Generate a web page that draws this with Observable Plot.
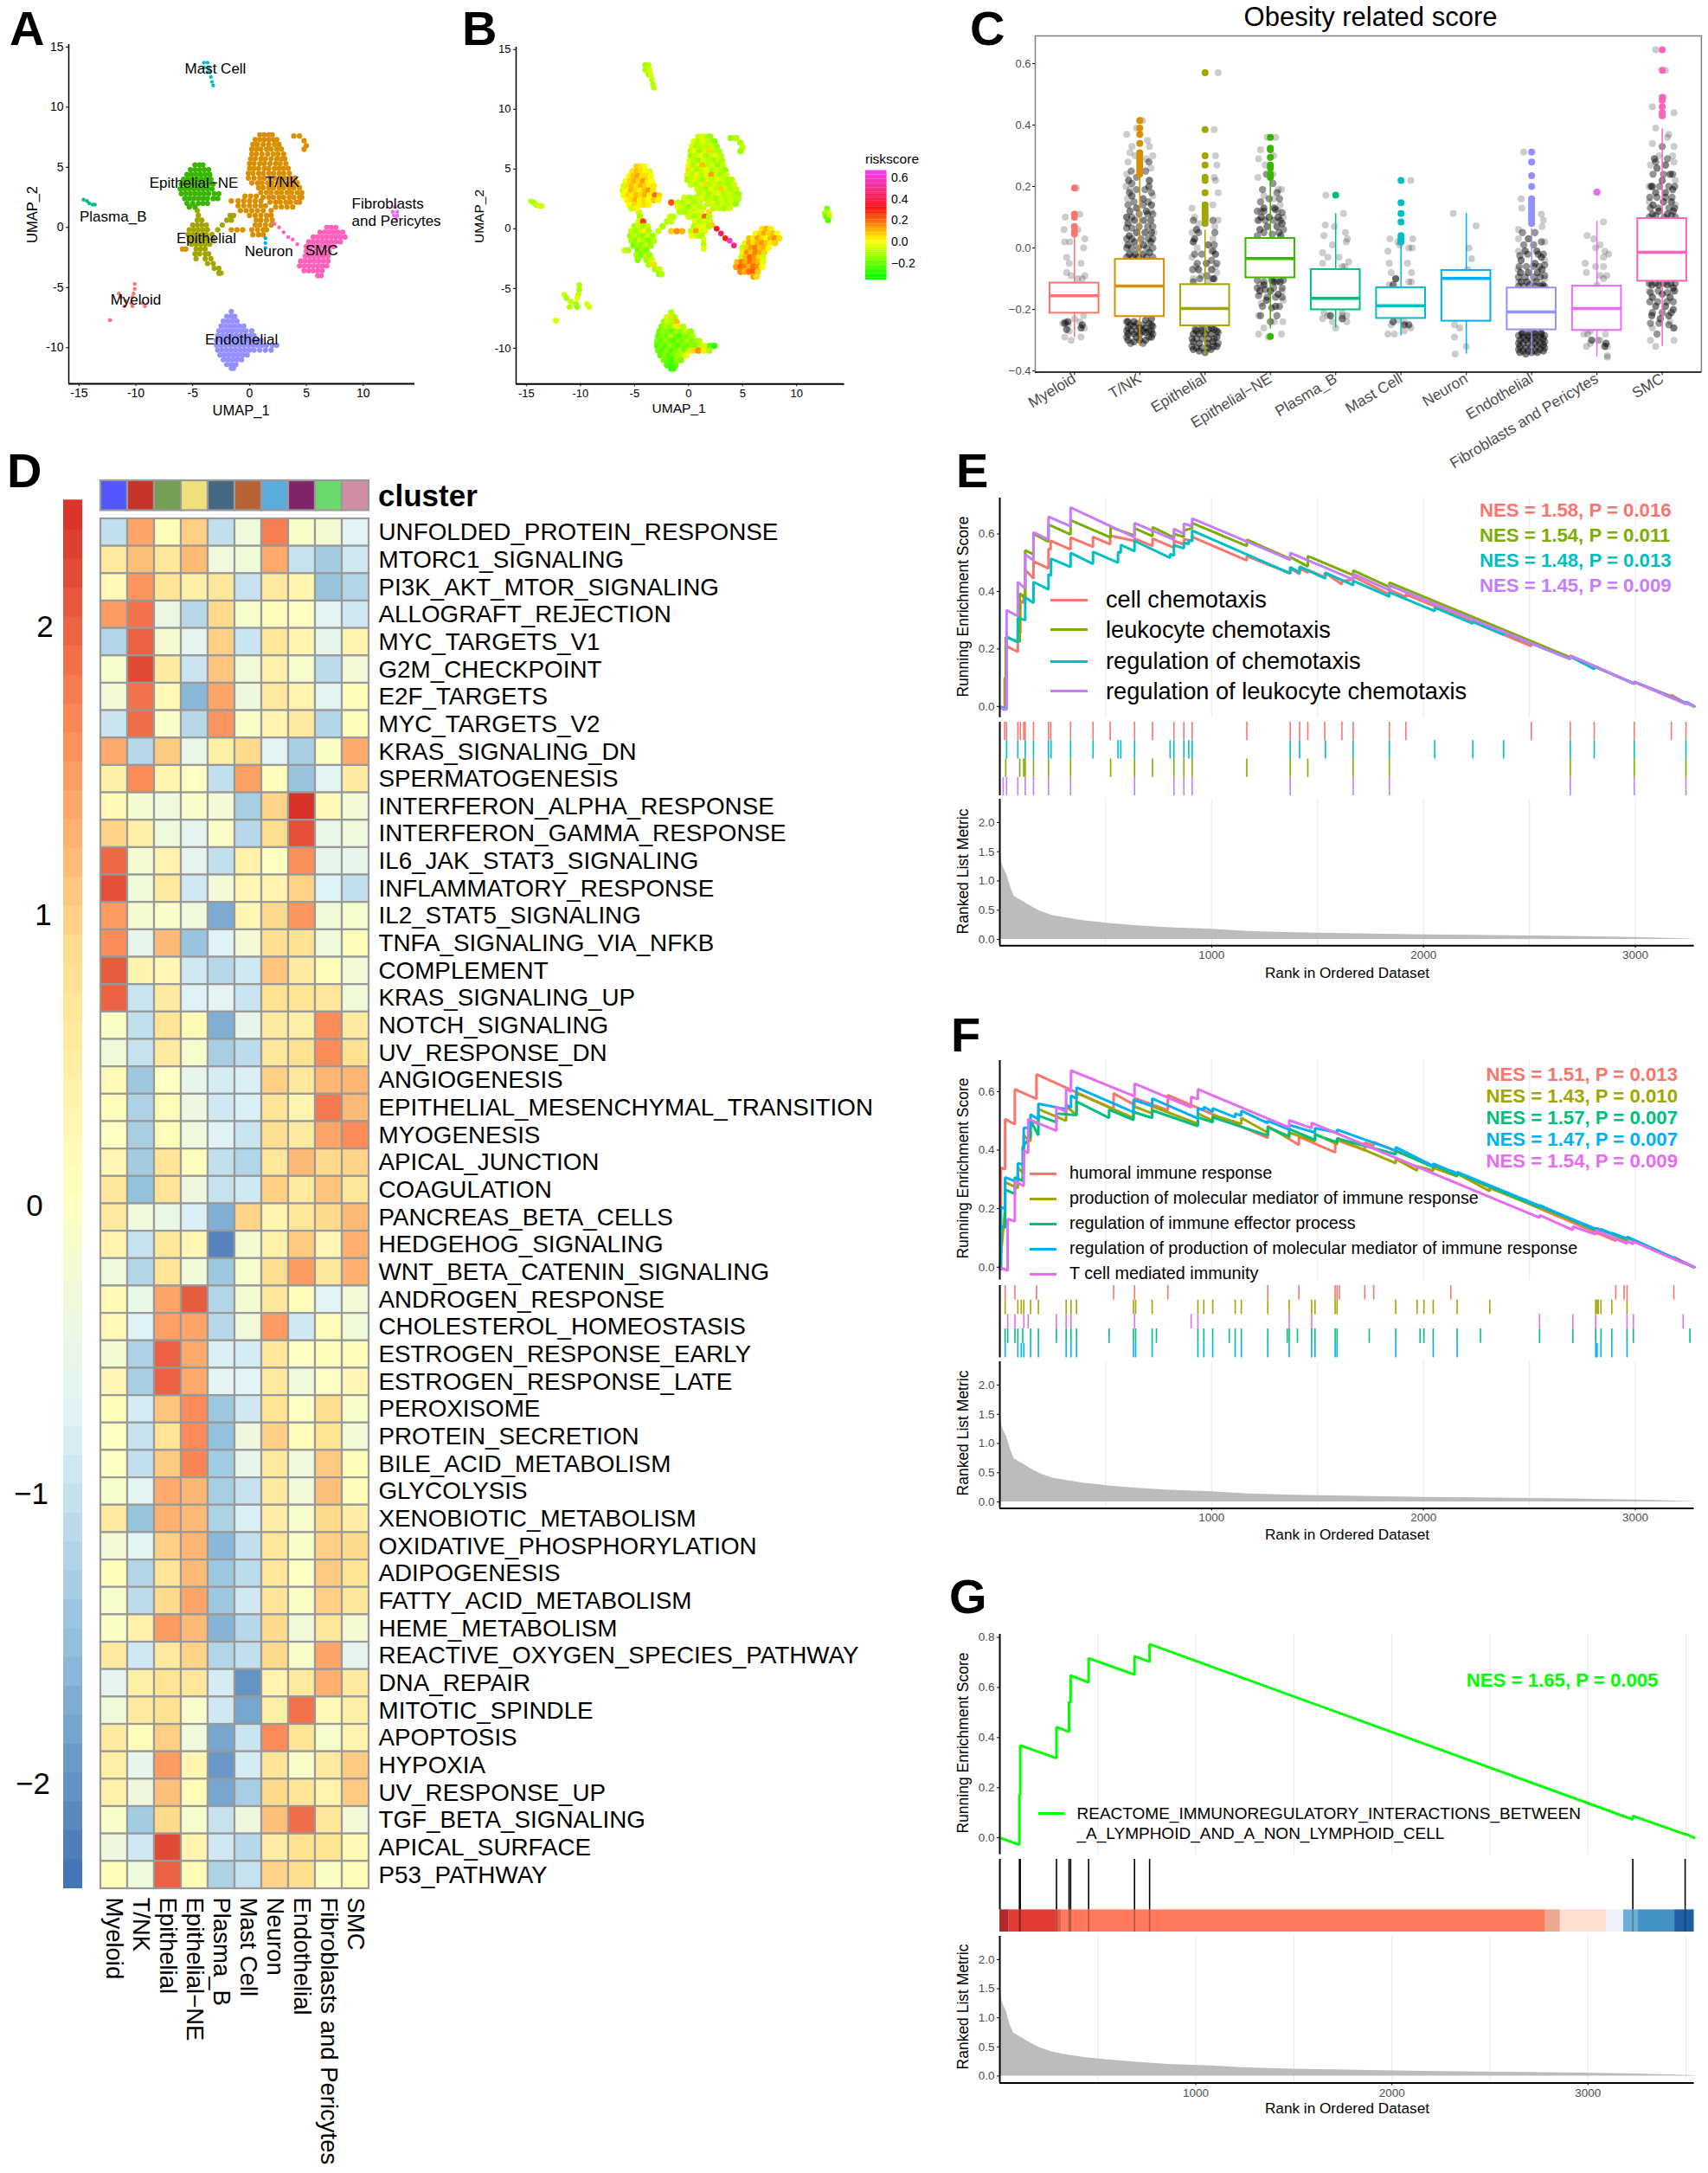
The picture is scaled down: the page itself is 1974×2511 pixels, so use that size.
<!DOCTYPE html>
<html><head><meta charset="utf-8">
<script src="https://cdn.jsdelivr.net/npm/d3@7"></script>
<script src="https://cdn.jsdelivr.net/npm/@observablehq/plot@0.6"></script>
<style>
html,body{margin:0;background:#fff}
#page{position:relative;width:1974px;height:2511px;overflow:hidden;background:#fff;font-family:"Liberation Sans",Arial,sans-serif}
.lbl{position:absolute;white-space:pre;line-height:1;color:#000}
.wrap{position:absolute}
</style></head><body><div id="page"></div>
<script>
/* ---------- categories ---------- */
const cellTypes=["Myeloid","T/NK","Epithelial","Epithelial\u2212NE","Plasma_B","Mast Cell","Neuron","Endothelial","Fibroblasts and Pericytes","SMC"];
const hueColors=["#F8766D","#D89000","#A3A500","#39B600","#00BF7D","#00BFC4","#00B0F6","#9590FF","#E76BF3","#FF62BC"];
const annotColors=["#5555FF","#C8342A","#73A055","#F0E07A","#456882","#B86335","#5AACDC","#7F2469","#6BD96B","#D08EA6"];

/* ---------- UMAP cells: rows of [y, x, score*100, x, score*100, ...] ---------- */
const umapMyeloid=[[-4.7,-10.1,-10],[-5.1,-10.1,-12],[-5.5,-10.2,-8,-11.5,-6],[-5.8,-11.3,-12,-10.3,-4],[-6.1,-10.9,-8],[-6.3,-10.4,-12,-9.4,-6],[-6.55,-11,-10,-10.3,-14,-9.2,-6],[-7.7,-12.3,-2,-12.25,-6]];
const umapTNK=[[7.7,.9,-8,1.3,-4,1.7,-10,2.0,-14],[7.3,.5,-6,.9,-12,1.3,-2,1.7,-8,2.1,-12,2.4,-16],[6.9,.3,-4,.7,-12,1.2,-8,1.7,-10,2.2,-6,2.6,-14],[6.5,.2,-10,.6,-2,1.0,-14,1.5,-6,1.9,5,2.4,-10,2.8,-12],[6.1,.2,-14,.6,-8,1.1,-4,1.6,-12,2.1,-8,2.5,-2,3.0,-10],[5.7,.1,-6,.5,-10,1.0,-14,1.4,-6,1.9,-10,2.4,-14,2.8,-8,3.1,-12],[5.3,0,-2,.4,-12,.9,-6,1.3,8,1.8,-10,2.3,-6,2.7,-14,3.2,-8],[4.9,0,4,.4,-6,.8,-12,1.3,-8,1.7,-2,2.2,-12,2.6,-6,3.0,-10,3.4,-14],[4.5,-.1,-6,.3,-10,.8,2,1.2,-10,1.7,-6,2.1,12,2.6,-8,3.0,-12,3.5,-6],[4.1,-.1,-12,.4,-4,.9,-8,1.3,-14,1.8,-6,2.2,-10,2.7,-2,3.1,-8,3.6,-12,4.0,-10],[3.7,.2,-8,.7,-12,1.1,-6,1.6,4,2.0,-10,2.5,-6,2.9,-12,3.4,-8,3.8,-14,4.2,-6],[3.3,.8,-6,1.2,-10,1.7,-14,2.1,-4,2.6,-10,3.0,6,3.5,-8,3.9,-12,4.4,-8],[2.9,1.0,-10,1.5,-6,1.9,-12,2.4,-8,2.8,-4,3.3,-12,3.7,-6,4.2,-10,4.6,-14],[2.5,1.2,-4,1.7,-12,2.1,-8,2.6,-14,3.0,-6,3.5,-10,3.9,-8,4.4,-12,4.6,-10],[2.1,1.8,-8,2.3,-4,2.7,-12,3.2,-6,3.6,-10,4.1,-8,4.4,-14],[1.7,2.3,-10,2.8,-8,3.3,-12,3.8,-6],[7.6,3.9,-14,4.4,-10],[7.2,4.8,-12],[6.8,5,-8],[6.5,4.8,-14],[2.6,-.4,-6,.1,-12,.6,-8],[2.2,-1.6,22,-1,-8,-.5,-10,0,-6,.5,-12,1,-8],[1.8,-1,-4,-.5,-8,0,-14,.5,-6,1,-10,1.4,-8],[1.4,-.8,-10,-.3,-12,.2,-6,.7,-8,1.2,-4,1.9,4],[1.0,0,-6,.5,-12,1,-8,1.5,20,1.9,-10],[.6,.6,-4,1,-10,1.5,-6,2,-8],[.2,.5,-10,.9,-6,1.4,-4,1.9,-12],[-.2,-1.6,6,-1.1,14,-.6,10,.2,-8,.7,12,1.2,-6,1.5,-4],[-.6,.3,-2,.8,-8,1.2,-12],[-1.8,-5.9,-6,-5.6,-10]];
const umapEpi=[[1.4,-4.6,-8],[1.0,-4.5,-12,-1.7,-6,-1.4,-10],[.6,-4.6,-6,-4.2,24,-2,-10,-1.6,-8],[.2,-5,-12,-4.6,-6,-4.2,-14,-3.8,-8,-2.4,-12],[-.2,-5.3,-8,-4.9,-14,-4.5,-10,-4.1,2,-3.7,-12,-2.8,-8],[-.6,-5.4,-14,-5,-8,-4.6,-12,-4.2,-16,-3.8,-6,-3.3,-14],[-1,-5.3,-10,-4.9,-16,-4.5,-8,-4.1,-12,-3.7,-18,-3.2,-10],[-1.4,-5.1,-18,-4.7,-12,-4.3,-16,-3.9,-8,-3.5,-14],[-1.8,-4.7,-20,-4.3,-14,-3.9,-18],[-2.2,-4.8,-12,-4.4,-18,-3.9,-8,-3.6,-14],[-2.6,-4.7,-16,-3.9,-12,-3.4,-6],[-3,-3.7,-10,-3.2,4],[-3.4,-3.1,-12,-2.7,-8],[-3.8,-2.7,-16,-2.5,-10]];
const umapEpiNE=[[5.2,-4.8,6,-4.4,3,-4.1,-2],[4.8,-5.2,3,-4.8,8,-4.4,4,-4,1,-3.6,-4],[4.4,-5.5,1,-5.1,7,-4.7,11,-4.3,3,-3.9,5,-3.5,-2],[4,-5.8,-2,-5.4,5,-5,10,-4.6,4,-4.2,13,-3.8,3,-3.4,0],[3.6,-6,-6,-5.6,4,-5.2,8,-4.8,3,-4.4,10,-4,5,-3.6,1,-3.2,3],[3.2,-6.1,-4,-5.7,1,-5.3,10,-4.9,5,-4.5,1,-4.1,7,-3.7,13,-3.3,3],[2.8,-6,-2,-5.6,5,-5.2,3,-4.8,8,-4.4,4,-4,10,-3.6,1,-3.1,20,-2.7,4],[2.4,-5.7,1,-5.3,4,-4.9,10,-4.5,1,-4.1,5,-3.7,-2,-3.2,7,-2.8,1],[2,-5.5,0,-5,5,-4.5,-4,-4.1,4,-3.7,1],[1.7,-5.3,-6,-4.8,1]];
const umapPlasma=[[2.3,-14.6,-8],[2.2,-14.3,-12],[2,-14.1,-10],[1.9,-13.8,-4,-13.6,-8]];
const umapMast=[[13.7,-4,-14,-3.7,-10],[13.3,-4,-12,-3.6,-6],[12.9,-3.7,-14,-3.5,-4],[12.5,-3.4,-8],[12.1,-3.3,-12],[11.8,-3.2,-10]];
const umapNeuron=[[-.9,1.4,-6],[-1.3,1.4,-10],[-1.7,1.4,-4]];
const umapEndo=[[-7,-1.6,-10],[-7.4,-2,-6,-1.6,4,-1.3,-12],[-7.8,-2.3,-14,-1.9,-8,-1.5,-12,-1.1,8],[-8.2,-2.5,-18,-2.1,-10,-1.7,-16,-1.3,-6,-.9,2,-.5,-10],[-8.6,-2.7,-20,-2.3,-14,-1.9,-18,-1.5,-22,-1.1,-12,-.7,-16,-.3,-8,.2,-14],[-9,-2.8,-22,-2.4,-16,-2,-20,-1.6,-12,-1.2,-18,-.8,-24,-.4,-14,0,-18,.4,-10],[-9.4,-2.9,-18,-2.5,-22,-2.1,-14,-1.7,-20,-1.3,-24,-.9,-16,-.5,-20,-.1,-12,.3,-18,.7,-14,1,-10],[-9.8,-2.9,-24,-2.5,-18,-2.1,-22,-1.7,-14,-1.3,-20,-.9,-24,-.5,-16,-.1,-20,.3,-14,.7,-18,1.1,-8,1.5,-6,2,-24,2.4,-28],[-10.2,-2.8,-20,-2.4,-24,-2,-16,-1.6,-22,-1.2,-18,-.8,-12,-.4,-20,0,-8,.4,4,.9,14,1.4,2,1.9,-12],[-10.6,-2.6,-22,-2.2,-16,-1.8,-24,-1.4,-18,-1,-14,-.6,-10,-.2,-2],[-11,-2.3,-18,-1.9,-22,-1.5,-26,-1.1,-14,-.7,-18],[-11.4,-2,-24,-1.6,-28,-1.2,-20],[-11.7,-1.6,-30,-1.4,-26]];
const umapFibro=[[1.7,12.8,-18],[1.3,12.6,-12,13,-6],[1,12.7,-20,13,-10],[.7,12.9,-24]];
const umapSMC=[[0,6.8,3,7.2,9,7.6,2],[-.4,6.2,-2,6.6,5,7,11,7.4,4,7.8,8,8.2,0],[-.8,5.6,8,6,2,6.4,12,6.8,5,7.2,0,7.6,9,8,14,8.4,4],[-1.2,5.2,-2,5.6,11,6,4,6.4,9,6.8,14,7.2,7,7.6,2,8,6],[-1.6,5,-8,5.4,6,5.8,12,6.2,17,6.6,7,7,10,7.4,0],[-2,5,2,5.4,14,5.8,7,6.2,16,6.6,10,7,5],[-2.4,4.9,-8,5.3,9,5.7,19,6.1,14,6.5,5,6.9,-6],[-2.8,4.5,8,4.9,16,5.3,10,5.7,18,6.1,12,6.5,8,6.9,-3],[-3.2,4.4,12,4.8,20,5.2,16,5.6,10,6,18,6.4,14,6.8,0],[-3.6,4.8,16,5.2,9,5.6,18,6,21,6.4,7],[-4,6,12,6.3,4]];
const umapBridge=[[.3,2.2,6],[0,2.6,34],[-.4,3,42],[-.8,3.4,28],[-1,3.8,60],[-1.4,4.2,46]];
const umapClusters=[umapMyeloid,umapTNK,umapEpi,umapEpiNE,umapPlasma,umapMast,umapNeuron,umapEndo,umapFibro,umapSMC];
const umapLabels=["Mast Cell","Epithelial\u2212NE","T/NK","Plasma_B","Epithelial","Neuron","SMC","Myeloid","Endothelial"];
const umapLabelX=[-3,-4.9,2.9,-12,-3.8,1.7,6.35,-10,-.7];
const umapLabelY=[13.2,3.7,3.75,.9,-.95,-2,-1.9,-6.05,-9.3];
const riskStops=[-.35,0,.3,.65];
const riskColors=["#00FF00","#FFFF00","#FF1010","#F040F0"];
const riskTicks=[-.2,0,.2,.4,.6];

/* ---------- Panel C ---------- */
const boxQ3=[-.114,-.037,-.119,.031,-.07,-.129,-.073,-.13,-.124,.096];
const boxMedian=[-.155,-.124,-.197,-.034,-.164,-.188,-.099,-.208,-.197,-.014];
const boxQ1=[-.212,-.223,-.253,-.097,-.201,-.229,-.238,-.266,-.268,-.108];
const whiskerLow=[-.291,-.32,-.348,-.262,-.26,-.286,-.345,-.354,-.354,-.32];
const whiskerHigh=[.04,.233,.058,.223,.112,.01,.112,.063,.087,.388];
const outliers=[[.195,.11,.10,.07,.055,.045],[.415,.39,.37,.34,.31,.30,.29,.28,.27,.26,.25,.24],[.57,.385,.30,.27,.23,.22,.18,.14,.13,.12,.11,.10,.09,.08],[.36,.325,.32,.295,.27,.26,.24,.23,-.288],[.172],[.22,.147,.112,.085,.04,.03,.02],[],[.312,.28,.235,.2,.16,.15,.14,.13,.12,.11,.1,.09,.08],[.182],[.645,.578,.49,.48,.46,.44,.43]];
/* jitter: dx, value, dx, value ... */
const jitterSparse=[
[-.15,-.29,-.05,-.3,.1,-.29,.15,-.26,-.1,-.25,.08,-.24,-.14,-.24,0,-.23,.14,-.22,-.08,-.27,-.18,-.245,.12,-.1,.16,-.09,-.05,-.09,.05,-.1,-.12,-.08,.1,-.05,-.08,-.05,.14,0,-.12,-.03,.16,.03,-.15,.02,-.07,.02,.05,.06,-.14,.1,.08,.11,.03,.195,-.16,.06],
[.04,.415,-.2,.37,-.05,.39,.12,.35,-.15,.31,-.18,.28,.15,.33,.2,.3,-.2,.24,-.12,.33,.17,.26,.1,.29,-.07,.3,-.21,.2,.14,.22,.2,.17,-.19,.16,.18,.12,-.2,.1,-.15,.19,.22,.05],
[.2,.57,.14,.385,.16,.3,.18,.27,.14,.23,.16,.22,.2,.18,.12,.14,-.2,.13,-.16,.1,.2,.09,-.1,.08,.15,.07,-.2,.05,-.18,.02,.12,.03,-.12,.0,.1,-.01,-.2,-.03,.16,-.06,-.14,-.06,-.05,-.09,.18,-.08,-.18,-.1,.05,-.11],
[-.05,.36,.08,.36,-.15,.32,.05,.3,-.18,.29,-.08,.27,-.19,.23,.04,.24,.12,.19,.17,.19,-.1,.17,.05,.16,.15,.14,-.15,.12,.12,.12,.2,.1,-.2,.09,-.16,-.12,.18,-.14,-.14,-.18,.2,-.17,-.18,-.22,.06,-.24,.19,-.24,-.1,-.26,.17,-.28,-.18,-.28,-.03,-.29],
[-.15,.172,-.16,.075,.12,.112,-.02,.07,.15,.05,-.18,.04,-.05,.01,.18,.03,.16,.02,-.2,-.015,-.12,-.03,.05,-.03,.14,-.06,.1,-.06,-.2,-.05,.2,-.045,-.2,-.23,-.12,-.22,-.05,-.24,.1,-.21,.17,-.22,-.18,-.21,.17,-.24,0,-.26,.1,-.22],
[.15,.22,-.17,.03,.18,.03,-.05,.02,.12,.0,.17,.0,-.2,-.01,-.02,.01,-.18,-.05,.1,-.05,.16,-.08,-.15,-.08,-.08,-.1,.12,-.11,.16,-.11,-.18,-.12,-.2,-.28,-.1,-.28,.05,-.27,.15,-.26,-.15,-.25,.05,-.24,-.05,-.235],
[-.2,.112,.15,.072,.04,-.0,.08,-.035,-.18,-.25,-.1,-.26,-.18,-.29,0,-.32,-.17,-.345,.02,-.07],
[-.12,.312,-.16,.16,.15,.11,-.15,.13,.18,.09,.16,.07,-.2,.06,-.2,.03,.2,.02,-.2,-.01,.2,-.04,-.21,-.07,.2,-.1,-.2,-.11],
[.0,.182,-.15,.04,-.05,.03,.1,.085,.05,.01,.12,-.01,-.02,.0,.18,-.02,.1,-.03,-.18,-.05,-.02,-.06,.1,-.06,-.16,-.08,.15,-.09,.05,-.09,.1,-.1,.0,-.12,-.2,-.28,-.14,-.28,.13,-.28,.05,-.3,-.1,-.31,.16,-.32,-.16,-.32,.16,-.35,.02,-.3,.16,-.355,-.1,-.27],
[-.1,.645,.05,.578,-.15,.46,.02,.49,.18,.44,-.1,.39,.1,.37,.08,.36,-.15,.34,.18,.33,-.05,.3,.16,.3,-.18,.27,.18,.28,-.2,.2,.2,.22,-.2,.15,.2,.14,-.18,-.3,.18,-.3,-.15,-.26,.17,-.26,-.1,-.32,.12,-.24,-.2,-.14,.2,-.14]
];
const jitterCore=[
[-.15,-.245,-.1,-.24,.1,-.26,.12,-.25,-.12,-.265],
[-.18,-.3,-.09,-.305,0,-.3,.09,-.3,.18,-.29,-.18,-.28,-.09,-.28,0,-.28,.09,-.275,.18,-.27,-.18,-.26,-.09,-.255,0,-.26,.09,-.26,.18,-.25,-.18,-.24,-.09,-.24,.09,-.235,.18,-.23,-.16,-.02,-.07,-.02,.05,-.02,.15,-.015,-.18,.01,-.08,.02,.06,.01,.17,.02,-.16,.04,-.05,.05,.08,.05,.18,.05,-.18,.08,-.08,.09,.06,.09,.17,.09,-.15,.12,-.05,.13,.1,.12,.18,.14,-.12,.17,.05,.16,.14,.2,-.17,.22],
[-.18,-.33,-.09,-.335,0,-.34,.09,-.33,.18,-.32,-.18,-.305,-.09,-.31,.04,-.31,.12,-.305,.18,-.29,-.18,-.28,-.09,-.28,0,-.28,.09,-.28,.18,-.27,-.15,-.265,-.05,-.26,.1,-.26,.12,-.1,.1,-.07,-.1,-.07,.02,-.05,-.16,.03,.16,-.02,.05,.01,-.13,.06],
[-.15,.02,-.06,.02,.07,.02,.16,.04,-.16,.06,-.05,.07,.1,.07,.18,.08,-.14,.1,-.02,.1,.12,.1,-.1,.13,.06,.13,.15,-.11,.05,-.11,-.1,-.12,-.16,-.14,0,-.14,.12,-.15,-.06,-.17,.08,-.19],
[-.08,-.22,.1,-.23],
[-.12,-.24,.05,-.25,.12,-.25,-.08,-.1,-.12,-.12],
[],
[-.18,-.34,-.09,-.345,0,-.34,.09,-.34,.18,-.335,-.18,-.32,-.09,-.325,0,-.32,.09,-.32,.18,-.315,-.18,-.3,-.09,-.3,0,-.3,.09,-.3,.18,-.295,-.15,-.28,-.05,-.285,.05,-.28,.15,-.28,-.16,-.11,-.07,-.11,.07,-.11,.17,-.12,-.17,-.08,-.05,-.08,.09,-.08,.16,-.07,-.16,-.04,.05,-.05,.15,-.03,-.1,-.01,.08,-.01,-.05,.03],
[.12,-.32,.14,-.31,-.08,-.3],
[-.15,.11,-.05,.12,.08,.11,.17,.12,-.14,.14,.02,.15,.14,.15,-.1,.18,.05,.18,.16,.19,-.15,.2,.0,.22,.12,.24,-.08,.26,.05,.27,-.12,.29,-.16,-.12,-.05,-.12,.08,-.12,.17,-.13,-.15,-.16,0,-.15,.12,-.16,-.1,-.19,.05,-.19,.17,-.2,-.16,-.22,-.03,-.23,.1,-.22]
];
const jitterDense=[
[],
[-.2,-.29,-.14,-.31,-.05,-.29,.05,-.31,.14,-.29,.2,-.28,-.2,-.27,-.13,-.27,-.04,-.27,.05,-.27,.14,-.27,.2,-.255,-.14,-.25,-.04,-.245,.04,-.25,.14,-.245,-.2,-.24,-.2,-.03,-.11,-.03,-.02,-.03,.1,-.03,.2,-.03,-.2,0,-.12,0,-.02,0,.11,0,.2,0,-.2,.03,-.12,.03,.02,.03,.13,.03,.2,.03,-.2,.065,-.12,.065,-.01,.07,.12,.07,.2,.07,-.2,.1,-.12,.1,-.01,.11,.12,.11,.2,.11,-.18,.14,-.09,.15,.05,.14,.13,.15,-.16,.18,-.05,.19,.08,.19,.18,.18,-.12,.21,.15,.22,-.05,.23,.09,.25,-.13,.25,.14,.28],
[-.2,-.32,-.13,-.325,-.05,-.325,.05,-.325,.13,-.32,.2,-.31,-.2,-.295,-.13,-.295,-.04,-.295,.05,-.295,.14,-.295,.2,-.275,-.13,-.27,-.04,-.27,.05,-.265,.14,-.265,-.18,-.11,-.08,-.1,.03,-.09,.14,-.1,-.19,-.07,-.12,-.05,.1,-.04,.18,-.05,-.16,-.02,-.05,-.02,.12,-.01,-.18,.02,.14,.01,-.1,.05,.15,.05,-.18,.09,.12,.09],
[-.2,.04,-.1,.05,.03,.045,.13,.05,.2,.06,-.18,.09,-.08,.09,.05,.09,.15,.09,-.2,.12,-.1,.12,.08,.125,.18,.115,-.15,.15,-.02,.16,.14,.16,-.12,.19,.1,.18,.04,.21,-.06,.24,-.2,-.105,-.1,-.11,.02,-.105,.1,-.11,.2,-.105,-.2,-.13,-.08,-.135,.05,-.13,.18,-.13,-.18,-.155,-.05,-.16,.08,-.16,.18,-.16,-.12,-.19,.02,-.195,.14,-.19,-.15,-.22,.1,-.22,0,-.24],
[],[],[],
[-.2,-.33,-.13,-.335,-.05,-.335,.05,-.335,.13,-.33,.2,-.325,-.2,-.31,-.13,-.31,-.05,-.31,.05,-.31,.13,-.31,.2,-.305,-.2,-.285,-.13,-.29,-.05,-.29,.05,-.29,.13,-.29,.2,-.285,-.14,-.275,-.04,-.275,.04,-.275,.14,-.275,-.2,-.125,-.12,-.125,-.03,-.12,.06,-.125,.14,-.125,.2,-.125,-.2,-.095,-.1,-.095,.03,-.095,.13,-.095,.2,-.09,-.19,-.06,-.08,-.06,.03,-.06,.12,-.06,.2,-.055,-.18,-.025,-.06,-.02,.1,-.02,.18,-.02,-.12,.01,.03,.01,.15,.02,-.14,.05,.05,.05],
[],
[-.2,.1,-.1,.105,.03,.1,.14,.105,.2,.1,-.18,.13,-.06,.13,.1,.13,.19,.13,-.19,.165,-.08,.165,.05,.165,.15,.165,-.17,.2,-.04,.2,.1,.2,.19,.2,-.14,.24,.02,.24,.16,.24,-.1,.28,.08,.29,0,.33,-.2,-.115,-.1,-.115,.02,-.115,.13,-.115,.2,-.115,-.18,-.145,-.06,-.14,.08,-.145,.18,-.14,-.19,-.175,-.07,-.175,.07,-.175,.17,-.175,-.15,-.21,0,-.21,.14,-.21,-.18,-.245,-.05,-.245,.1,-.25,.18,-.26,-.08,-.28]
];

/* ---------- Panel D ---------- */
const pathways=["UNFOLDED_PROTEIN_RESPONSE","MTORC1_SIGNALING","PI3K_AKT_MTOR_SIGNALING","ALLOGRAFT_REJECTION","MYC_TARGETS_V1","G2M_CHECKPOINT","E2F_TARGETS","MYC_TARGETS_V2","KRAS_SIGNALING_DN","SPERMATOGENESIS","INTERFERON_ALPHA_RESPONSE","INTERFERON_GAMMA_RESPONSE","IL6_JAK_STAT3_SIGNALING","INFLAMMATORY_RESPONSE","IL2_STAT5_SIGNALING","TNFA_SIGNALING_VIA_NFKB","COMPLEMENT","KRAS_SIGNALING_UP","NOTCH_SIGNALING","UV_RESPONSE_DN","ANGIOGENESIS","EPITHELIAL_MESENCHYMAL_TRANSITION","MYOGENESIS","APICAL_JUNCTION","COAGULATION","PANCREAS_BETA_CELLS","HEDGEHOG_SIGNALING","WNT_BETA_CATENIN_SIGNALING","ANDROGEN_RESPONSE","CHOLESTEROL_HOMEOSTASIS","ESTROGEN_RESPONSE_EARLY","ESTROGEN_RESPONSE_LATE","PEROXISOME","PROTEIN_SECRETION","BILE_ACID_METABOLISM","GLYCOLYSIS","XENOBIOTIC_METABOLISM","OXIDATIVE_PHOSPHORYLATION","ADIPOGENESIS","FATTY_ACID_METABOLISM","HEME_METABOLISM","REACTIVE_OXYGEN_SPECIES_PATHWAY","DNA_REPAIR","MITOTIC_SPINDLE","APOPTOSIS","HYPOXIA","UV_RESPONSE_UP","TGF_BETA_SIGNALING","APICAL_SURFACE","P53_PATHWAY"];
const heatValues=[
[-1.1,1.35,.1,.95,-1.1,-.4,1.7,-.15,-.25,-.75],[.55,1.1,.6,1.15,-.4,-.35,1.3,-1.05,-1.4,-.95],[.15,1.5,.7,.4,.6,-1.05,.55,.25,-1.5,-1.25],[1.45,1.8,-.5,-1.2,.85,-.2,.1,-.05,-.7,-.95],[-1.25,1.95,-.25,-.65,.95,-1,.6,.25,-.6,.3],[-.2,2.15,.5,-1,1.05,-.35,.35,-.2,-1.15,-.3],[-.3,1.8,.15,-1.65,1.35,-.45,.55,.3,-.7,.1],[-1,1.85,-.15,-1.2,1.5,-.15,.3,.55,-1.25,.1],[1.3,-1.2,1,-.55,.4,.85,-.7,-1.35,-.1,1.3],[.4,1.6,.25,-.05,-1.1,1.4,.05,-1.5,-.7,.5],
[.15,-.25,-.4,-.15,-.3,-1.35,.9,2.35,.15,-.3],[.9,.4,-.4,-.65,-.1,-1.2,.8,2.1,-.55,-.4],[1.9,-.25,.3,-.65,-1.1,.35,-.05,1.55,-.6,-.6],[2.1,-.35,.55,-.95,-.3,.2,.3,.9,-.8,-1.1],[1.45,-.25,-.15,-.4,-1.8,.2,.85,1.5,-.35,-.2],[1.6,-.6,1.15,-1.5,-.8,-.3,.8,.75,-.4,.1],[2,.3,.2,-.95,-1.2,-.95,1.05,.5,.1,-.3],[1.95,-1,.5,-.8,-.7,-1,.75,.7,.6,-.35],[-.1,-1.1,.7,.15,-1.75,-.6,.55,.4,1.6,.55],[-.35,-1.05,.55,-.2,-1.35,-1.15,.6,.75,1.6,.75],
[.15,-1.45,-.05,-.6,-.9,-.85,.95,.6,1.2,1.2],[.1,-1.3,.1,-.45,-.95,-.85,.65,.25,1.75,1.15],[-.05,-1.35,.1,-.4,-.8,-1,.8,.5,1.35,1.6],[.2,-1.4,.65,.05,-1.1,-1.25,.6,1.15,.85,.9],[.6,-1.55,.65,-.45,-1.05,-.95,.95,.55,1.05,.6],[.55,-.4,-.55,-.85,-1.75,.9,.25,.6,.85,1.15],[.25,-1.05,.6,.2,-2.2,-.25,.35,1,.2,1.25],[-.4,-1.25,.65,-.35,-1.45,-.2,.8,1.45,.6,1.25],[.15,-.55,1.35,2,-1.25,-.25,.6,.05,-.75,-.3],[.15,-.8,1.4,1.35,-1.2,-.35,1.45,-.95,.1,-.35],
[-.25,-1.3,1.95,1.3,-.85,-.9,.6,-.05,.05,.1],[.2,-1.35,1.95,1.3,-.7,-.75,.55,-.4,-.05,.2],[.1,-.9,1.05,1.6,-1.45,-.95,.7,-.05,.8,-.15],[-.05,-1.05,.7,1.6,-1.55,-.45,.95,.05,.7,-.3],[-.05,-1.1,1,1.65,-1.4,-.6,.55,-.4,1,.1],[-.2,-.7,1.3,1.2,-1.35,-1.05,.55,-.35,1.1,.1],[.5,-1.5,1.25,1.15,-1.3,-.85,.45,-.2,.85,.45],[-.3,-.7,.95,1.2,-1.65,-1.1,.6,-.15,.95,.85],[.1,-1.25,.7,1.15,-1.45,-1.15,.6,-.05,1,.7],[-.2,-1.15,.85,1.35,-1.45,-.95,.65,-.1,.95,.6],
[-.1,.35,1.45,1.15,-1.7,-1.2,.85,-.35,.6,-.25],[.55,-.95,.55,.9,-1.25,-1.1,.85,-.15,1.35,-.65],[-.65,.4,.7,.6,-.9,-2.05,.3,.55,1.25,.5],[-.35,.55,.75,-.15,-.95,-1.85,.4,1.8,.15,.4],[.5,.05,.95,-.4,-1.85,-1,1.6,.7,-.2,.3],[.4,-.6,1.45,.25,-2,-.9,.65,-.15,.55,1],[.35,-.45,1.1,.1,-1.85,-1.35,.85,.65,.3,1],[-.15,-1.4,.85,-.2,-1.05,-.45,1.1,1.85,.6,-.3],[-.45,-.95,2.15,.25,-.95,-1.2,.45,.75,.7,.15],[.1,-.4,1.95,.1,-1.3,-1.05,.9,.8,-.1,.1]];
const heatStops=[-2.37,-1.58,-.79,0,.79,1.58,2.37];
const heatColors=["#4575B4","#91BFDB","#E0F3F8","#FFFFBF","#FEE090","#FC8D59","#D73027"];

/* ---------- Ranked list metric ---------- */
const metricRank=[0,4,10,20,32,50,67,90,124,160,194,250,309,400,500,650,800,1000,1170,1345,1500,1750,2000,2250,2500,2750,3000,3150,3278];
const metricValue=[1.9,1.5,1.3,1.2,1.12,.9,.74,.69,.62,.54,.48,.41,.37,.32,.28,.235,.2,.175,.14,.12,.11,.095,.08,.07,.062,.05,.035,.02,.005];
const gMetricRank=[0,4,10,20,32,50,70,95,130,170,210,270,330,430,540,700,860,1080,1260,1450,1620,1890,2160,2430,2700,2970,3240,3400,3542];

/* ---------- Panel E: each hit is rank, score before, score after ---------- */
const eNames=["cell chemotaxis","leukocyte chemotaxis","regulation of chemotaxis","regulation of leukocyte chemotaxis"];
const eNES=["NES = 1.58, P = 0.016","NES = 1.54, P = 0.011","NES = 1.48, P = 0.013","NES = 1.45, P = 0.009"];
const eColors=["#F8766D","#7CAE00","#00BFC4","#C77CFF"];
const eCoral=[[23,-.01,.1],[32,.09,.21],[85,.19,.26],[97,.255,.368],[113,.36,.39],[120,.385,.475],[159,.445,.505],[230,.48,.55],[240,.545,.576],[334,.546,.588],[440,.555,.59],[521,.564,.594],[636,.576,.584],[721,.558,.584],[822,.552,.576],[869,.564,.582],[908,.576,.59],[1166,.508,.523],[1371,.463,.481],[1415,.46,.481],[1454,.465,.475],[1534,.45,.465],[1615,.425,.435],[1668,.442,.452],[1839,.39,.407],[1917,.38,.39],[2509,.21,.22],[2693,.168,.174],[2806,.132,.139],[2995,.079,.086],[3170,.035,.04],[3239,.011,.016]];
const eOlive=[[28,-.01,.24],[94,.225,.394],[113,.38,.39],[120,.37,.543],[159,.529,.6],[230,.573,.633],[334,.598,.648],[523,.588,.624],[636,.594,.62],[721,.592,.624],[822,.588,.6],[869,.59,.612],[908,.62,.638],[1166,.558,.58],[1371,.513,.52],[1454,.487,.523],[1668,.457,.473],[1839,.415,.431],[2693,.171,.177],[2995,.08,.086],[3239,.01,.015]];
const eTeal=[[32,-.01,.243],[85,.223,.308],[120,.3,.38],[159,.36,.433],[230,.407,.46],[242,.455,.514],[334,.485,.534],[440,.496,.538],[558,.5,.537],[571,.535,.562],[636,.54,.576],[804,.517,.53],[822,.525,.561],[869,.55,.57],[892,.565,.578],[908,.575,.612],[1371,.463,.485],[1415,.465,.487],[1537,.445,.465],[1668,.422,.437],[1839,.382,.397],[2053,.332,.344],[2233,.288,.296],[2378,.25,.257],[2693,.165,.174],[2806,.13,.139],[2995,.079,.086],[3239,.011,.016]];
const ePurple=[[16,-.01,-.01],[32,-.01,.335],[85,.314,.433],[120,.41,.529],[159,.508,.606],[230,.58,.66],[334,.627,.692],[636,.588,.638],[822,.58,.618],[869,.6,.636],[908,.627,.654],[1371,.51,.534],[1668,.442,.461],[1839,.404,.421],[2693,.165,.177],[2995,.079,.086],[3239,.008,.013]];
const eHits=[eCoral,eOlive,eTeal,ePurple];
const eTickOrder=[0,2,1,3];

/* ---------- Panel F ---------- */
const fNames=["humoral immune response","production of molecular mediator of immune response","regulation of immune effector process","regulation of production of molecular mediator of immune response","T cell mediated immunity"];
const fNES=["NES = 1.51, P = 0.013","NES = 1.43, P = 0.010","NES = 1.57, P = 0.007","NES = 1.47, P = 0.007","NES = 1.54, P = 0.009"];
const fColors=["#F8766D","#A3A500","#00BF7D","#00B0F6","#E76BF3"];
const fCoral=[[5,-.01,.34],[25,.335,.506],[71,.488,.608],[173,.575,.659],[537,.54,.594],[636,.554,.578],[793,.536,.588],[1265,.442,.482],[1412,.418,.446],[1583,.392,.422],[1592,.42,.434],[1723,.4,.425],[1765,.415,.428],[2129,.32,.33],[2908,.09,.097],[2947,.088,.1],[2961,.095,.103],[3182,.03,.035]];
const fOlive=[[25,.2,.29],[85,.27,.34],[113,.32,.45],[145,.43,.5],[182,.49,.54],[313,.5,.55],[362,.52,.595],[631,.51,.55],[719,.525,.55],[935,.49,.525],[1005,.5,.52],[1140,.49,.51],[1265,.46,.48],[1366,.44,.46],[1488,.43,.455],[1592,.42,.44],[1869,.355,.37],[1970,.33,.345],[2046,.33,.34],[2159,.31,.32],[2313,.26,.27],[2838,.12,.13],[2961,.09,.1]];
const fGreen=[[5,-.01,.14],[25,.135,.265],[71,.25,.307],[108,.295,.41],[145,.446,.502],[182,.45,.518],[267,.495,.525],[362,.52,.566],[516,.51,.538],[631,.503,.53],[719,.51,.536],[935,.482,.512],[1005,.495,.512],[1265,.45,.478],[1366,.447,.472],[1488,.435,.453],[1592,.427,.44],[1869,.386,.398],[2046,.342,.35],[2159,.313,.322],[2548,.205,.212],[2813,.127,.133],[2961,.097,.103]];
const fBlue=[[5,-.01,.205],[25,.2,.307],[85,.29,.355],[113,.35,.416],[113,.416,.476],[145,.476,.522],[182,.505,.558],[313,.54,.555],[336,.545,.587],[362,.575,.614],[631,.53,.572],[719,.55,.576],[935,.508,.542],[963,.538,.548],[1005,.531,.543],[1111,.512,.525],[1140,.518,.534],[1265,.492,.5],[1366,.47,.486],[1488,.46,.475],[1592,.46,.47],[1869,.398,.41],[2046,.346,.354],[2159,.32,.325],[2820,.129,.133],[2838,.127,.13],[2889,.114,.117],[2961,.097,.103]];
const fMagenta=[[37,-.012,.165],[71,.157,.295],[113,.277,.398],[134,.39,.506],[267,.466,.548],[313,.53,.608],[336,.6,.672],[636,.584,.627],[903,.546,.582],[935,.574,.608],[1366,.477,.502],[1472,.475,.493],[2548,.169,.178],[2705,.127,.139],[2813,.112,.126],[2961,.08,.09],[2991,.079,.088],[3226,.014,.018]];
const fHits=[fCoral,fOlive,fGreen,fBlue,fMagenta];
const fTickCoral=[25,71,173,537,636,793,1265,1412,1583,1592,1603,1723,1765,2129,2908,2947,2961,3182];
const fTickOlive=[25,85,101,113,145,182,313,336,362,631,641,719,935,963,1005,1111,1140,1265,1366,1472,1488,1583,1592,1869,1970,2002,2046,2159,2313,2813,2820,2825,2838,2889,2961];
const fTickMagenta=[37,71,113,134,267,313,336,636,903,935,1366,1472,2548,2705,2813,2961,2991,3226];
const fTickGreen=[25,37,71,85,108,145,182,267,313,336,362,516,631,641,719,739,935,963,1005,1083,1111,1140,1265,1357,1366,1405,1472,1488,1583,1592,1744,1869,1984,2002,2046,2159,2269,2548,2705,2813,2838,2889,2961,2991,3258];
const fTickBlue=[25,85,101,113,145,182,313,336,362,631,641,719,935,963,1005,1111,1140,1265,1366,1472,1488,1583,1592,1869,2046,2159,2813,2820,2838,2889,2961];
const fTicks=[fTickCoral,fTickOlive,fTickMagenta,fTickGreen,fTickBlue];
const fTickColors=["#F8766D","#A3A500","#E76BF3","#00BF7D","#00B0F6"];

/* ---------- Panel G ---------- */
const gHits=[[100,-.028,.17],[104,.17,.369],[289,.318,.442],[353,.423,.541],[361,.541,.648],[453,.62,.717],[687,.651,.725],[764,.703,.773],[3229,.073,.087],[3496,.014,.016]];
const gTicks=[100,104,289,353,361,453,687,764,3229,3496];
const gBandEdges=[0,47,289,316,2784,2859,3095,3182,3257,3443,3542];
const gBandColors=["#B2282C","#E23B33","#EC5A46","#FF7A5C","#EBA78F","#FDE0D2","#EEF3FA","#6BAED6","#4292C6","#1F5FA6"];

/* ---------- helpers ---------- */
const page=document.getElementById("page");
const FONT='"Liberation Sans",Arial,sans-serif';
function P(box,o){
  const mL=o.mL??70,mR=o.mR??10,mT=o.mT??8,mB=o.mB??40;
  const {mL:_a,mR:_b,mT:_c,mB:_d,...rest}=o;
  const plot=Plot.plot({width:box.r-box.l+mL+mR,height:box.b-box.t+mT+mB,marginLeft:mL,marginRight:mR,marginTop:mT,marginBottom:mB,
    style:{fontFamily:FONT,fontSize:"14px",background:"transparent",overflow:"visible",color:"#000"},...rest});
  const w=document.createElement("div");w.className="wrap";w.style.left=(box.l-mL)+"px";w.style.top=(box.t-mT)+"px";
  w.appendChild(plot);page.appendChild(w);return plot;
}
function label(t,x,y,o={}){
  const d=document.createElement("div");d.className="lbl";d.textContent=t;
  const a=o.anchor||"start";const tx=a==="middle"?"-50%":a==="end"?"-100%":"0";
  d.style.left=x+"px";d.style.top=y+"px";d.style.fontSize=(o.size||16)+"px";
  if(o.weight)d.style.fontWeight=o.weight;if(o.color)d.style.color=o.color;if(o.lh)d.style.lineHeight=o.lh;
  d.style.transform=`translate(${tx},-50%)`+(o.rotate?` rotate(${o.rotate}deg)`:"");
  page.appendChild(d);
}
function swatch(x1,x2,y,c){const d=document.createElement("div");d.style.cssText=`position:absolute;left:${x1}px;top:${y-1.5}px;width:${x2-x1}px;height:3px;background:${c}`;page.appendChild(d);}

/* ---------- Panels A & B ---------- */
const cells=[];
const pushRows=(rows,c,small)=>rows.forEach(r=>{for(let i=1;i<r.length;i+=2)cells.push({x:r[i],y:r[0],s:r[i+1]/100,c,small});});
const thinClusters=new Set([0,4,5,6,8]);
umapClusters.forEach((rows,c)=>pushRows(rows,c,thinClusters.has(c)));
pushRows(umapBridge,9,true);
const fmtPlain=d=>String(d);
const axisFont={fontSize:14,tickSize:3,tickPadding:3,tickFormat:fmtPlain};
P({l:79.3,t:50.5,r:479.3,b:442.5},{mL:40,mR:5,mT:5,mB:30,
  x:{domain:[-15.9,14.55],axis:null},y:{domain:[-13,15.2],axis:null},
  color:{type:"ordinal",domain:d3.range(10),range:hueColors},
  marks:[
    Plot.dot(cells,{filter:d=>!d.small,x:"x",y:"y",fill:"c",r:3.1}),
    Plot.dot(cells,{filter:d=>d.small,x:"x",y:"y",fill:"c",r:2.2}),
    Plot.ruleX([-15.9],{stroke:"#000",strokeWidth:1.5}),Plot.ruleY([-13],{stroke:"#000",strokeWidth:2}),
    Plot.axisX({...axisFont,ticks:[-15,-10,-5,0,5,10],label:null}),
    Plot.axisY({...axisFont,ticks:[-10,-5,0,5,10,15],label:null}),
    Plot.text(umapLabels,{x:(d,i)=>umapLabelX[i],y:(d,i)=>umapLabelY[i],text:d=>d,fontSize:17,fill:"#000"}),
    Plot.text(["Fibroblasts\nand Pericytes"],{x:[9],y:[1.3],text:d=>d,fontSize:17,textAnchor:"start",fill:"#000",lineHeight:1.2})
  ]});
label("UMAP_1",278.6,474,{size:16.5,anchor:"middle"});
label("UMAP_2",37,248,{size:16.5,anchor:"middle",rotate:-90});

P({l:595.8,t:54,r:975.4,b:443.3},{mL:40,mR:5,mT:5,mB:30,
  x:{domain:[-15.95,14.43],axis:null},y:{domain:[-13,15.2],axis:null},
  color:{type:"linear",domain:riskStops,range:riskColors,clamp:true},
  marks:[
    Plot.dot(cells,{filter:d=>!d.small,x:"x",y:"y",fill:"s",r:3.7}),
    Plot.dot(cells,{filter:d=>d.small,x:"x",y:"y",fill:"s",r:3.3}),
    Plot.ruleX([-15.95],{stroke:"#000",strokeWidth:1.5}),Plot.ruleY([-13],{stroke:"#000",strokeWidth:2}),
    Plot.axisX({...axisFont,fontSize:13,ticks:[-15,-10,-5,0,5,10],label:null}),
    Plot.axisY({...axisFont,fontSize:13,ticks:[-10,-5,0,5,10,15],label:null})
  ]});
label("UMAP_1",784.6,471.7,{size:15.5,anchor:"middle"});
label("UMAP_2",554,250,{size:15.5,anchor:"middle",rotate:-90});
label("riskscore",1000,184,{size:15.5});
const riskLevels=d3.range(-.353,.648,.02);
P({l:1000,t:199,r:1024.6,b:323},{mL:2,mR:50,mT:2,mB:2,
  x:{domain:[0,1],axis:null},y:{domain:[-.353,.648],axis:null},
  color:{type:"linear",domain:riskStops,range:riskColors,clamp:true},
  marks:[Plot.rect(riskLevels,{x1:0,x2:1,y1:d=>d,y2:d=>d+.021,fill:d=>d}),
    Plot.axisY({anchor:"right",ticks:riskTicks,tickSize:0,tickPadding:5,fontSize:14,tickFormat:d3.format(".1f"),label:null})]});

/* ---------- Panel C ---------- */
const sparse=[],core=[],dense=[],outs=[];
jitterSparse.forEach((a,c)=>{for(let i=0;i<a.length;i+=2)sparse.push({x:c+a[i],y:a[i+1]});});
jitterCore.forEach((a,c)=>{for(let i=0;i<a.length;i+=2)core.push({x:c+a[i],y:a[i+1]});});
jitterDense.forEach((a,c)=>{for(let i=0;i<a.length;i+=2)dense.push({x:c+a[i],y:a[i+1]});});
outliers.forEach((a,c)=>a.forEach(v=>outs.push({x:c,y:v,c})));
const boxes=cellTypes.map((n,i)=>({i,q1:boxQ1[i],q3:boxQ3[i],m:boxMedian[i],lo:whiskerLow[i],hi:whiskerHigh[i]}));
label("Obesity related score",1584,19,{size:31,anchor:"middle"});
P({l:1195.6,t:40.6,r:1965.5,b:429},{mL:50,mR:8,mT:5,mB:130,
  x:{domain:[-.6,9.6],axis:null},y:{domain:[-.4035,.69],axis:null},
  color:{type:"ordinal",domain:d3.range(10),range:hueColors},
  marks:[
    Plot.frame({stroke:"#7f7f7f",strokeWidth:1.5}),
    Plot.ruleY([-.4035],{stroke:"#333",strokeWidth:2}),
    Plot.dot(sparse,{x:"x",y:"y",r:4,fill:"#000",fillOpacity:.2}),
    Plot.dot(dense,{x:"x",y:"y",r:4.2,fill:"#000",fillOpacity:.42}),
    Plot.dot(core,{x:"x",y:"y",r:4.2,fill:"#000",fillOpacity:.5}),
    Plot.ruleX(boxes,{x:"i",y1:"lo",y2:"hi",stroke:"i",strokeWidth:1.5}),
    Plot.rect(boxes,{x1:d=>d.i-.375,x2:d=>d.i+.375,y1:"q1",y2:"q3",fill:"#fff",stroke:"i",strokeWidth:2}),
    Plot.ruleY(boxes,{y:"m",x1:d=>d.i-.375,x2:d=>d.i+.375,stroke:"i",strokeWidth:3.5}),
    Plot.dot(outs,{x:"x",y:"y",r:4,fill:"c"}),
    Plot.axisY({ticks:[-.4,-.2,0,.2,.4,.6],tickSize:3,tickPadding:2,fontSize:13,fill:"#4d4d4d",tickFormat:d3.format(".1f"),label:null}),
    Plot.axisX({ticks:d3.range(10),tickFormat:i=>cellTypes[i],tickRotate:-31,tickSize:4,tickPadding:2,fontSize:17.5,fill:"#4d4d4d",label:null})
  ]});

/* ---------- Panel D ---------- */
const heat=[];pathways.forEach((p,r)=>cellTypes.forEach((c,k)=>heat.push({p,c,v:heatValues[r][k]})));
const heatColor={type:"linear",domain:heatStops,range:heatColors,clamp:true};
P({l:114.3,t:599,r:427.3,b:2182},{mL:4,mR:620,mT:4,mB:328,
  x:{domain:cellTypes,padding:0,axis:null},y:{domain:pathways,padding:0,axis:null},color:heatColor,
  marks:[
    Plot.cell(heat,{x:"c",y:"p",fill:"v",stroke:"#999",strokeWidth:2.2}),
    Plot.axisY({anchor:"right",tickSize:0,tickPadding:10,fontSize:27.8,label:null}),
    Plot.axisX({anchor:"bottom",tickRotate:90,tickSize:0,tickPadding:10,fontSize:27.5,label:null})
  ]});
P({l:114.3,t:554.5,r:427.3,b:589},{mL:4,mR:4,mT:4,mB:4,
  x:{domain:cellTypes,padding:0,axis:null},color:{type:"identity"},
  marks:[Plot.cell(cellTypes,{x:d=>d,fill:(d,i)=>annotColors[i],stroke:"#999",strokeWidth:2.2})]});
label("cluster",437,572,{size:35,weight:"bold"});
const heatLevels=d3.range(-2.37,2.37,.1);
P({l:73,t:599,r:95,b:2182},{mL:2,mR:2,mT:2,mB:2,
  x:{domain:[0,1],axis:null},y:{domain:[-2.37,2.37],axis:null},color:heatColor,
  marks:[Plot.rect(heatLevels,{x1:0,x2:1,y1:d=>d,y2:d=>d+.105,fill:d=>d})]});
[["2",52,723],["1",50,1056],["0",40,1391.6],["\u22121",36,1724.6],["\u22122",38,2059.6]].forEach(([t,x,y])=>label(t,x,y,{size:35,anchor:"middle"}));

/* ---------- GSEA panels ---------- */
function pathOf(hits,N,s){const p=[{x:0,y:0,s}];hits.forEach(([r,a,b])=>{p.push({x:r,y:a,s});p.push({x:r,y:b,s});});p.push({x:N,y:0,s});return p;}
const L=1155.4,R=1958;
function gseaTop(N,box,dom,yt,grid,hitsList,colors){
  const lines=hitsList.flatMap((h,s)=>pathOf(h,N,s));
  P({l:L,t:box[0],r:R,b:box[1]},{mL:60,mR:16,mT:4,mB:4,
    x:{domain:[0,N],axis:null},y:{domain:dom,axis:null},
    color:{type:"ordinal",domain:colors.map((c,i)=>i),range:colors},
    marks:[
      Plot.ruleX(grid,{stroke:"#ebebeb",strokeWidth:1.2}),
      Plot.line(lines,{x:"x",y:"y",stroke:"s",z:"s",strokeWidth:3,curve:"linear",strokeLinejoin:"miter"}),
      Plot.ruleX([0],{stroke:"#000",strokeWidth:2}),
      Plot.axisY({ticks:yt,tickSize:3,tickPadding:3,fontSize:13.5,fill:"#4d4d4d",tickFormat:d3.format(".1f"),label:null})
    ]});
}
function gseaMetric(N,box,dom,xt,grid,ranks){
  const metric=ranks.map((r,i)=>({r,v:metricValue[i]}));
  P({l:L,t:box[0],r:R,b:box[1]},{mL:60,mR:16,mT:4,mB:30,
    x:{domain:[0,N],axis:null},y:{domain:dom,axis:null},
    marks:[
      Plot.ruleX(grid,{stroke:"#ebebeb",strokeWidth:1.2}),
      Plot.areaY(metric,{x:"r",y:"v",fill:"#bcbcbc",curve:"linear"}),
      Plot.ruleX([0],{stroke:"#000",strokeWidth:2}),
      Plot.ruleY([dom[0]],{stroke:"#000",strokeWidth:2}),
      Plot.axisY({ticks:[0,.5,1,1.5,2],tickSize:3,tickPadding:3,fontSize:13.5,fill:"#4d4d4d",tickFormat:d3.format(".1f"),label:null}),
      Plot.axisX({ticks:xt,tickSize:3,tickPadding:3,fontSize:13.5,fill:"#4d4d4d",tickFormat:d=>String(d),label:null})
    ]});
}
function gseaTicks(N,box,rows,colors){
  const data=rows.flatMap((a,k)=>a.map(r=>({r,k})));
  P({l:L,t:box[0],r:R,b:box[1]},{mL:60,mR:16,mT:2,mB:2,
    x:{domain:[0,N],axis:null},y:{domain:[rows.length,0],axis:null},
    color:{type:"ordinal",domain:d3.range(rows.length),range:colors},
    marks:[
      Plot.ruleX(data,{x:"r",y1:"k",y2:d=>d.k+1,stroke:"k",strokeWidth:1.6}),
      Plot.ruleX([0],{stroke:"#000",strokeWidth:2})
    ]});
}
const gridE=[500,1000,1500,2000,2500,3000];
const AXT=17.5;
/* E */
gseaTop(3278,[575.4,829.2],[-.039,.725],[0,.2,.4,.6],gridE,eHits,eColors);
gseaTicks(3278,[834.3,919.4],eTickOrder.map(k=>eHits[k].map(h=>h[0])),eTickOrder.map(k=>eColors[k]));
gseaMetric(3278,[923.3,1092.5],[-.105,2.398],[1000,2000,3000],gridE,metricRank);
label("Running Enrichment Score",1114,701,{size:AXT,anchor:"middle",rotate:-90});
label("Ranked List Metric",1114,1007,{size:AXT,anchor:"middle",rotate:-90});
label("Rank in Ordered Dataset",1557,1124.6,{size:17.2,anchor:"middle"});
eNES.forEach((t,i)=>label(t,1710,[590,619,647.7,677][i],{size:22.2,weight:"bold",color:eColors[i]}));
eNames.forEach((t,i)=>{const y=[693,727.6,764,798.8][i];swatch(1214,1257,y,eColors[i]);label(t,1278,y,{size:27.2});});
/* F */
gseaTop(3278,[1225.3,1479],[-.044,.706],[0,.2,.4,.6],gridE,fHits,fColors);
gseaTicks(3278,[1484.5,1568],fTicks,fTickColors);
gseaMetric(3278,[1573,1742.4],[-.108,2.4],[1000,2000,3000],gridE,metricRank);
label("Running Enrichment Score",1114,1350,{size:AXT,anchor:"middle",rotate:-90});
label("Ranked List Metric",1114,1656,{size:AXT,anchor:"middle",rotate:-90});
label("Rank in Ordered Dataset",1557,1774.3,{size:17.2,anchor:"middle"});
fNES.forEach((t,i)=>label(t,1717.4,[1242,1267,1292,1317,1342][i],{size:22.2,weight:"bold",color:fColors[i]}));
fNames.forEach((t,i)=>{const y=[1356,1385,1414,1443,1472][i];swatch(1190.3,1221,y,fColors[i]);label(t,1236,y,{size:19.8});});
/* G */
const gridG=[500,1000,1500,2000,2500,3000,3500];
gseaTop(3542,[1888,2142.7],[-.0676,.8124],[0,.2,.4,.6,.8],gridG,[gHits],["#00FF00"]);
const bands=gBandColors.map((c,i)=>({a:gBandEdges[i],b:gBandEdges[i+1],c}));
P({l:L,t:2147.6,r:R,b:2231.6},{mL:60,mR:16,mT:2,mB:2,
  x:{domain:[0,3542],axis:null},y:{domain:[0,1],axis:null},color:{type:"identity"},
  marks:[
    Plot.rect(bands,{x1:"a",x2:"b",y1:0,y2:.305,fill:"c"}),
    Plot.ruleX(gTicks,{y1:.305,y2:1,stroke:"#000",strokeWidth:1.6}),
    Plot.ruleX(gTicks,{y1:0,y2:.305,stroke:"#000",strokeOpacity:.3,strokeWidth:1.6}),
    Plot.ruleX([0],{y1:.305,y2:1,stroke:"#000",strokeWidth:2})
  ]});
gseaMetric(3542,[2236.5,2406],[-.12,2.4],[1000,2000,3000],gridG,gMetricRank);
label("Running Enrichment Score",1114,2014,{size:AXT,anchor:"middle",rotate:-90});
label("Ranked List Metric",1114,2319,{size:AXT,anchor:"middle",rotate:-90});
label("Rank in Ordered Dataset",1557,2436.5,{size:17.2,anchor:"middle"});
label("NES = 1.65, P = 0.005",1694.8,1942,{size:22.2,weight:"bold",color:"#00FF00"});
swatch(1200,1230,2095,"#00FF00");
label("REACTOME_IMMUNOREGULATORY_INTERACTIONS_BETWEEN",1244.5,2095,{size:19});
label("_A_LYMPHOID_AND_A_NON_LYMPHOID_CELL",1244.5,2118,{size:19});

/* ---------- panel letters ---------- */
[["A",11,33],["B",534,33],["C",1121,33],["D",8,544],["E",1105,544],["F",1099,1196],["G",1097,1845]].forEach(([t,x,y])=>label(t,x,y,{size:56,weight:"bold",lh:.72}));
</script></body></html>
